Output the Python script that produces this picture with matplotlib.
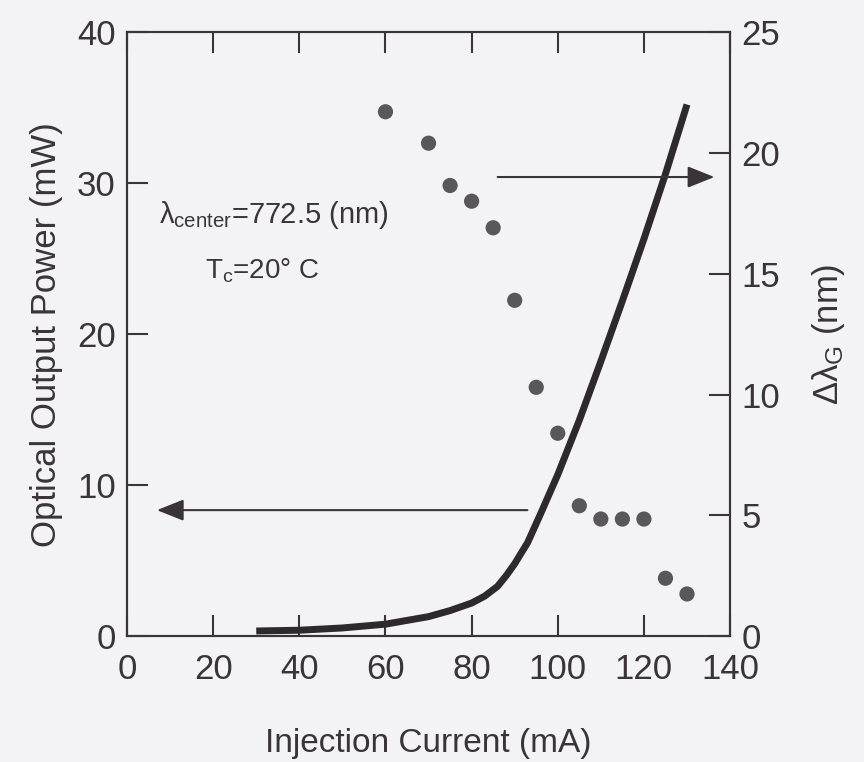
import matplotlib
matplotlib.use('Agg')
import matplotlib.pyplot as plt
import numpy as np

plt.rcParams['font.family'] = ['Liberation Sans', 'DejaVu Sans']
plt.rcParams['mathtext.fontset'] = 'custom'
plt.rcParams['mathtext.rm'] = 'Liberation Sans'
plt.rcParams['mathtext.it'] = 'Liberation Sans'

# L-I curve (left axis, mW)
current = [30, 40, 50, 60, 70, 75, 80, 83, 86, 88, 90, 93, 96, 100, 105, 110, 115, 120, 125, 130]
power = [0.35, 0.4, 0.55, 0.8, 1.3, 1.7, 2.2, 2.65, 3.3, 4.0, 4.8, 6.2, 8.1, 10.7, 14.3, 18.2, 22.2, 26.3, 30.6, 35.2]

# gain bandwidth (right axis, nm)
cur_pts = [60, 70, 75, 80, 85, 90, 95, 100, 105, 110, 115, 120, 125, 130]
dlambda = [21.7, 20.4, 18.65, 18.0, 16.9, 13.9, 10.3, 8.4, 5.4, 4.85, 4.85, 4.85, 2.4, 1.75]

ink = '#3a3438'
bg = '#f3f3f5'

fig = plt.figure(figsize=(8.64, 7.62), dpi=100, facecolor=bg)
ax = fig.add_axes([0.147, 0.165, 0.698, 0.793])
ax.set_facecolor(bg)
ax2 = ax.twinx()

ax.plot(current, power, color='#2e292d', lw=5, solid_capstyle='butt', zorder=3)
ax2.scatter(cur_pts, dlambda, s=120, color='#5a575c', edgecolors='none', zorder=3)

ax.set_xlim(0, 140)
ax.set_ylim(0, 40)
ax2.set_ylim(0, 25)
ax.set_xticks(range(0, 141, 20))
ax.set_yticks(range(0, 41, 10))
ax2.set_yticks(range(0, 26, 5))

ax.tick_params(axis='both', direction='in', length=15, width=1.5, colors=ink,
               labelsize=25, pad=8, top=True, right=False)
ax.tick_params(axis='x', pad=12)
ax2.tick_params(axis='y', direction='in', length=15, width=1.5, colors=ink,
                labelsize=25, pad=8)
for a in (ax, ax2):
    for s in a.spines.values():
        s.set_linewidth(1.5)
        s.set_color(ink)

ax.set_xlabel('Injection Current (mA)', fontsize=24, color=ink, labelpad=30)
ax.set_ylabel('Optical Output Power (mW)', fontsize=25, color=ink, labelpad=10)
ax2.set_ylabel(r'$\Delta\lambda_{\rm G}$ (nm)', fontsize=25, color=ink, labelpad=22)

# arrows pointing to the axes
ax.annotate('', xy=(6.3, 8.35), xytext=(93.6, 8.35),
            arrowprops=dict(arrowstyle='-|>,head_length=0.55,head_width=0.22',
                            mutation_scale=30, lw=1.5, color=ink))
ax.annotate('', xy=(137.0, 30.4), xytext=(85.4, 30.4),
            arrowprops=dict(arrowstyle='-|>,head_length=0.55,head_width=0.22',
                            mutation_scale=30, lw=1.5, color=ink))

ax.text(7.5, 27.9, r'$\lambda_{\rm center}$=772.5 (nm)', fontsize=21, color=ink, va='center')
ax.text(18, 24.2, r'T$_{\rm c}$=20$\degree$ C', fontsize=20, color=ink, va='center')

fig.savefig('out.png', dpi=100, facecolor=bg)
